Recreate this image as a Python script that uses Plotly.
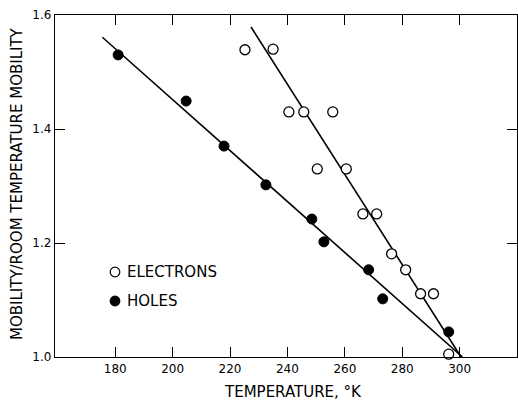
import plotly.graph_objects as go

# Data
holes_T = [181.0, 204.7, 217.9, 232.5, 248.5, 252.7, 268.3, 273.2, 296.2]
holes_mu = [1.530, 1.449, 1.370, 1.302, 1.242, 1.202, 1.153, 1.102, 1.044]

elec_T = [225.2, 235.0, 240.5, 245.7, 255.8, 250.4, 260.5, 266.3, 271.1,
          276.3, 281.2, 286.4, 290.9, 296.2]
elec_mu = [1.539, 1.540, 1.430, 1.430, 1.430, 1.330, 1.330, 1.251, 1.251,
           1.181, 1.153, 1.111, 1.111, 1.005]

holes_fit_T = [175.5, 301.0]
holes_fit_mu = [1.561, 1.0]
elec_fit_T = [227.3, 300.5]
elec_fit_mu = [1.579, 1.0]

x_ticks = [180, 200, 220, 240, 260, 280, 300]
y_ticks = [1.0, 1.2, 1.4, 1.6]
legend_labels = ["ELECTRONS", "HOLES"]
x_title = "TEMPERATURE, °K"
y_title = "MOBILITY/ROOM TEMPERATURE MOBILITY"

FONT = "DejaVu Sans"
PW, PH = 462, 342  # plot area size in px

fig = go.Figure()
fig.add_trace(go.Scatter(x=holes_fit_T, y=holes_fit_mu, mode="lines",
                         line=dict(color="black", width=1.6),
                         showlegend=False, hoverinfo="skip", cliponaxis=False))
fig.add_trace(go.Scatter(x=elec_fit_T, y=elec_fit_mu, mode="lines",
                         line=dict(color="black", width=1.6),
                         showlegend=False, hoverinfo="skip", cliponaxis=False))
fig.add_trace(go.Scatter(x=elec_T, y=elec_mu, mode="markers", name=legend_labels[0],
                         marker=dict(symbol="circle", size=10, color="white",
                                     line=dict(color="black", width=1.3)),
                         showlegend=False, cliponaxis=False))
fig.add_trace(go.Scatter(x=holes_T, y=holes_mu, mode="markers", name=legend_labels[1],
                         marker=dict(symbol="circle", size=10, color="black",
                                     line=dict(color="black", width=1)),
                         showlegend=False, cliponaxis=False))

axis_common = dict(showline=True, linecolor="black", linewidth=1.3, mirror="ticks",
                   ticks="inside", ticklen=10, tickcolor="black", tickwidth=1.3,
                   showgrid=False, zeroline=False,
                   tickfont=dict(family=FONT, size=12, color="black"))

fig.update_xaxes(range=[159, 320], tickvals=x_ticks, ticktext=[str(v) for v in x_ticks],
                 **axis_common)
fig.update_yaxes(range=[1.0, 1.6], tickvals=y_ticks, ticktext=[f"{v:.1f}" for v in y_ticks],
                 **axis_common)

# Axis titles as annotations for precise placement
fig.add_annotation(x=(293 - 55) / PW, y=-(392 - 357) / PH, xref="paper", yref="paper",
                   text=x_title, showarrow=False, xanchor="center", yanchor="middle",
                   font=dict(family=FONT, size=15, color="black"))
fig.add_annotation(x=(17 - 55) / PW, y=(357 - 184) / PH, xref="paper", yref="paper",
                   text=y_title, showarrow=False, textangle=-90,
                   xanchor="center", yanchor="middle",
                   font=dict(family=FONT, size=15, color="black"))

# Manual legend (marker shapes + text) inside the plot
legend_y = [(357 - 272) / PH, (357 - 301) / PH]
for i, (lab, fillc) in enumerate(zip(legend_labels, ["white", "black"])):
    fig.add_annotation(x=(125 - 55) / PW, y=legend_y[i], xref="paper", yref="paper",
                       text=lab, showarrow=False, xanchor="left", yanchor="middle",
                       font=dict(family=FONT, size=15, color="black"))
    r = 4.8 / PW
    ry = 4.8 / PH
    cx = (115 - 55) / PW
    fig.add_shape(type="circle", xref="paper", yref="paper",
                  x0=cx - r, x1=cx + r, y0=legend_y[i] - ry, y1=legend_y[i] + ry,
                  fillcolor=fillc, line=dict(color="black", width=1.2))

fig.update_layout(width=518, height=400, margin=dict(l=55, r=1, t=15, b=43),
                  plot_bgcolor="white", paper_bgcolor="white",
                  font=dict(family=FONT, color="black"))

fig.write_html("out.html")
